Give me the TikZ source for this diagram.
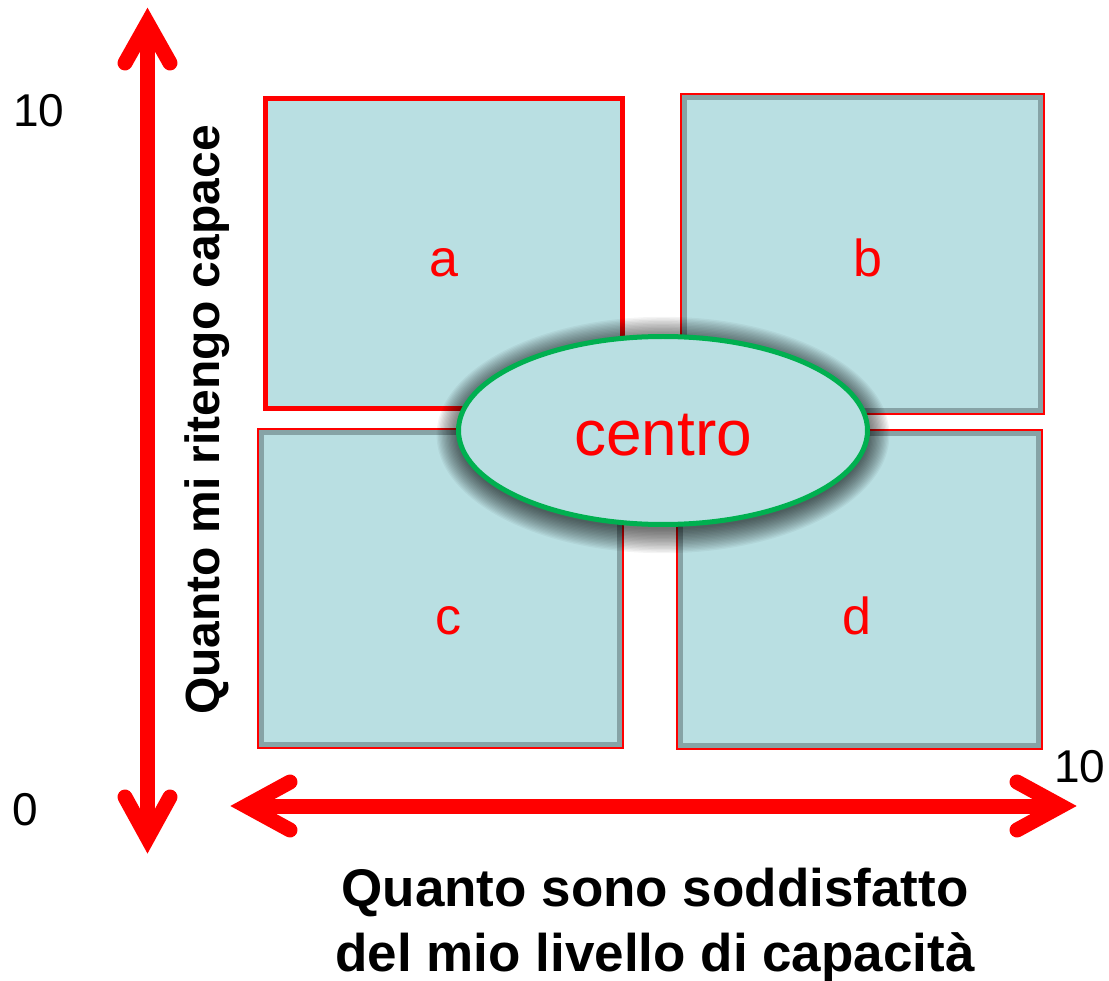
\documentclass[tikz,border=0pt]{standalone}
\usepackage{fontspec}
\setmainfont{Liberation Sans}
\usetikzlibrary{shapes.geometric,calc}
\definecolor{boxfill}{HTML}{B9DFE2}
\definecolor{boxgray}{HTML}{86A3A6}
\definecolor{ellgreen}{HTML}{00B050}
\begin{document}
\begin{tikzpicture}[x=1pt,y=-1pt,
  redbox/.style={rectangle, draw=red, line width=5pt, fill=boxfill, inner sep=0pt, outer sep=0pt},
  graybox/.style={rectangle, draw=boxgray, line width=5pt, fill=boxfill, inner sep=0pt, outer sep=0pt},
  redrim/.style={draw=red, line width=1.8pt},
  axisline/.style={draw=red, line width=15pt},
  arrhead/.style={draw=red, line width=15pt, line cap=round, line join=miter},
  lbl/.style={text=red, font=\fontsize{52}{60}\selectfont, inner sep=0pt, anchor=base},
  ticklbl/.style={font=\fontsize{46}{52}\selectfont, inner sep=0pt, anchor=base west},
  ctrshape/.style={ellipse, draw=ellgreen, line width=5pt, fill=boxfill, inner sep=0pt,
    minimum width=409pt, minimum height=188pt},
  ctrtext/.style={text=red, font=\fontsize{64}{70}\selectfont, inner sep=0pt, anchor=base}
]
\useasboundingbox (0,0) rectangle (1109,981);

% quadrants
\node[redbox, minimum width=357pt, minimum height=310pt] (a) at (443.5,254) {};
\node[graybox, minimum width=356pt, minimum height=313pt] (b) at (862.5,254) {};
\node[graybox, minimum width=358pt, minimum height=312pt] (c) at (440.5,588.5) {};
\node[graybox, minimum width=358pt, minimum height=312pt] (d) at (859.5,589.5) {};
\foreach \n in {b,c,d}
  \draw[redrim] ([shift={(-3.5pt,3.5pt)}]\n.north west) rectangle ([shift={(3.5pt,-3.5pt)}]\n.south east);

\node[lbl] (la) at (444,277) {a};
\node[lbl] (lb) at (868,277) {b};
\node[lbl] (lc) at (448,634) {c};
\node[lbl] (ld) at (857,634) {d};

% shadow of the centre ellipse
\foreach \i in {1,...,18}
  \fill[black, opacity=0.042] (663,435) ellipse [x radius={(203+\i*1.3)*1pt}, y radius={(93+\i*1.4)*1pt}];
\node[ctrshape] (ctr) at (663,430.5) {};
\node[ctrtext] (ctrlbl) at (663,456) {centro};

% axes
\coordinate (vt) at (147.5,23);
\coordinate (vb) at (147.5,838);
\coordinate (hl) at (246,806);
\coordinate (hr) at (1061,806);
\draw[axisline] (vt) -- (vb);
\draw[arrhead] ($(vt)+(-22.5,40)$) -- (vt) -- ($(vt)+(22.5,40)$);
\draw[arrhead] ($(vb)+(-22.5,-41)$) -- (vb) -- ($(vb)+(22.5,-41)$);
\draw[axisline] (hl) -- (hr);
\draw[arrhead] ($(hr)+(-44,-24)$) -- (hr) -- ($(hr)+(-44,24)$);
\draw[arrhead] ($(hl)+(44,-24)$) -- (hl) -- ($(hl)+(44,24)$);

% scale labels
\node[ticklbl] (t10y) at (13,127) {10};
\node[ticklbl] (t0) at (12,825) {0};
\node[ticklbl] (t10x) at (1054,782) {10};

% axis titles
\node[rotate=90, font=\bfseries\fontsize{48}{56}\selectfont, inner sep=0pt, anchor=base] (ylab) at (219,420) {Quanto mi ritengo capace};
\node[align=center, font=\bfseries\fontsize{53}{65}\selectfont, inner sep=0pt, anchor=center] (xlab) at (655,925) {Quanto sono soddisfatto\\del mio livello di capacità};
\end{tikzpicture}
\end{document}
